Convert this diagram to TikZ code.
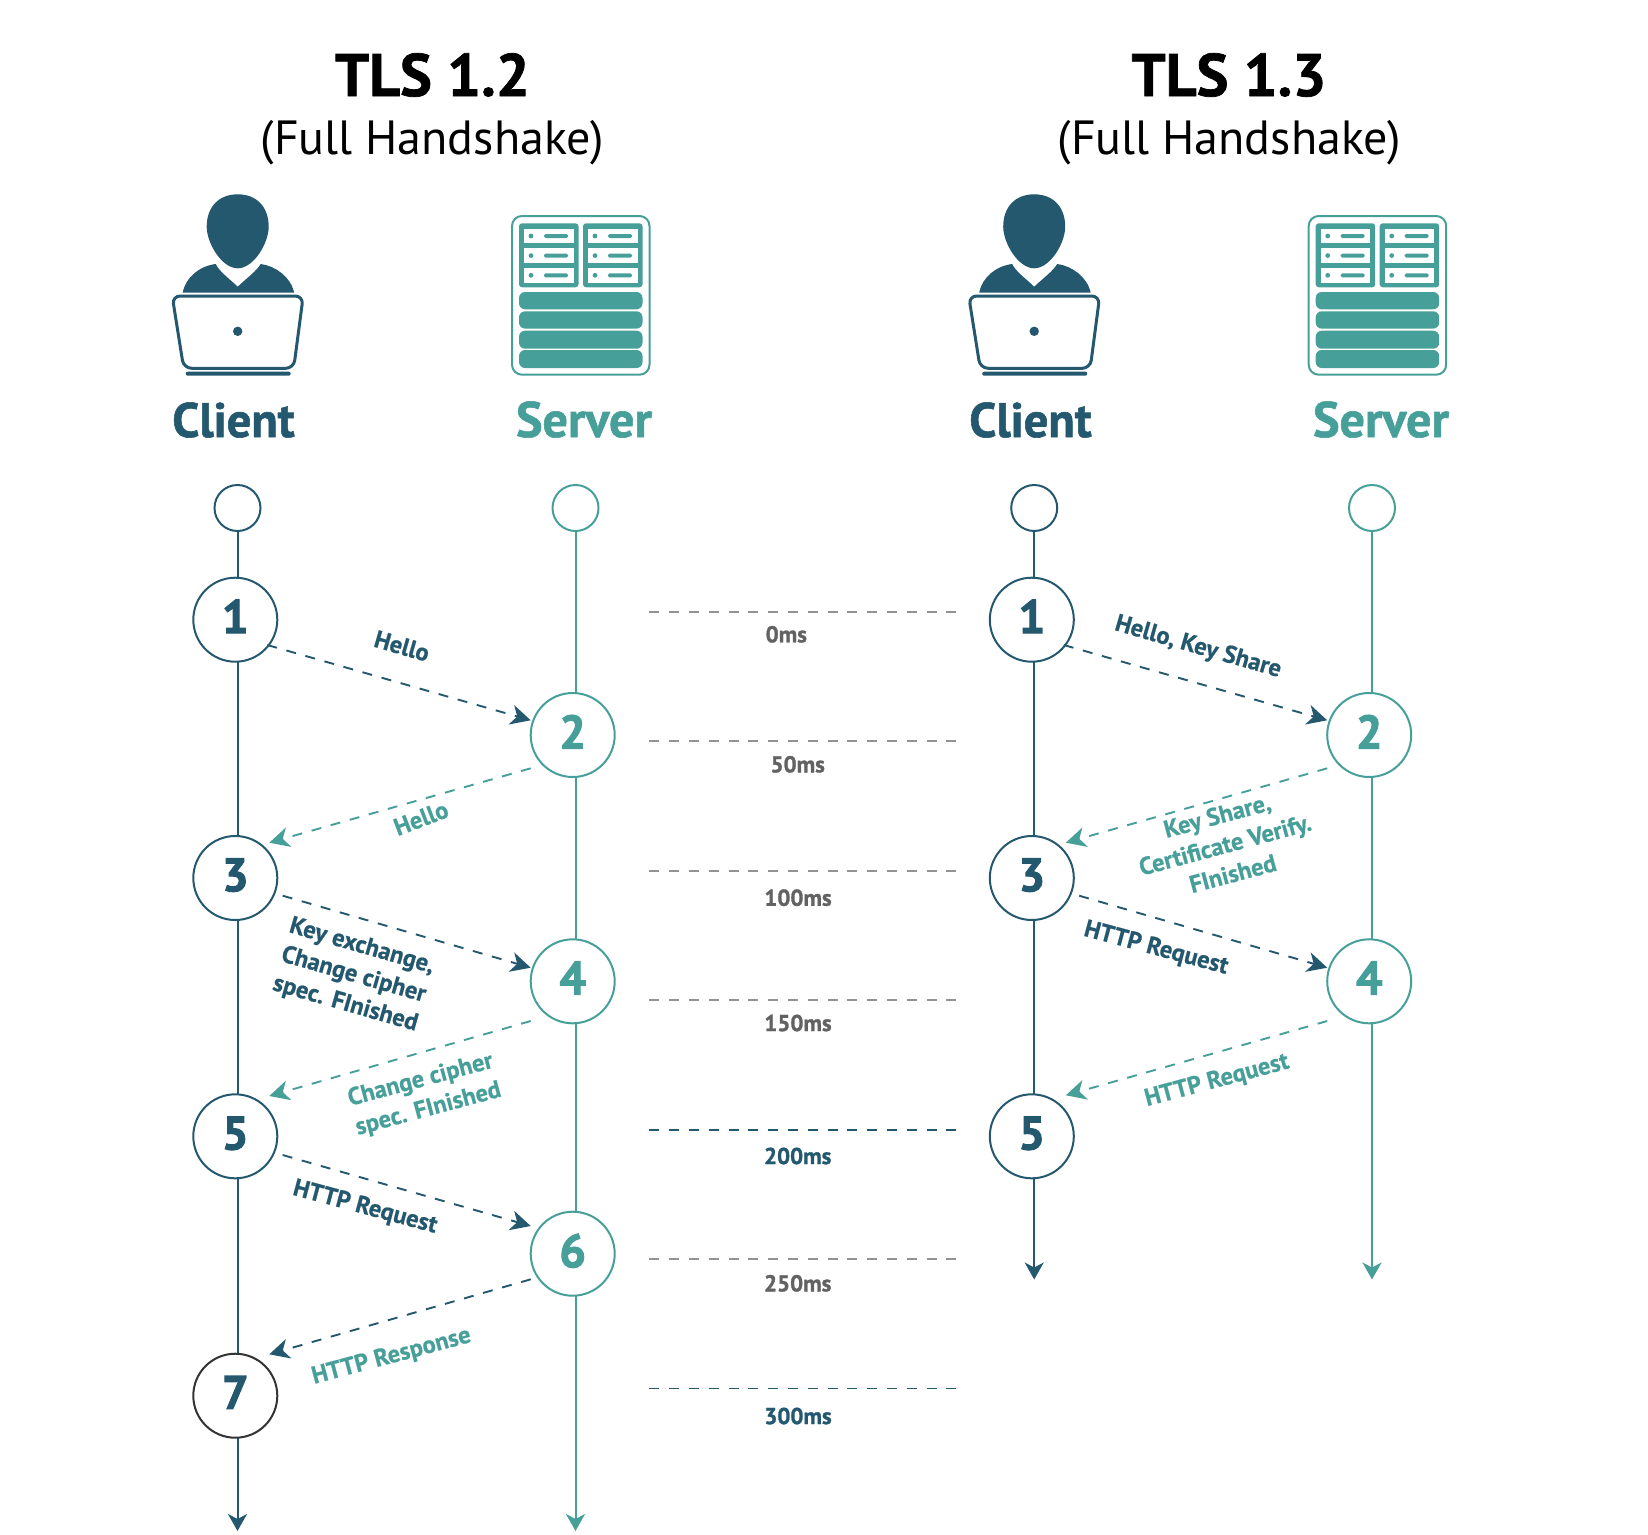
\documentclass[tikz,border=0pt]{standalone}
\usepackage{fontspec}
\setmainfont{PT Sans}[BoldFeatures={FakeBold=0.6}]
\newfontfamily\heavy{PT Sans Bold}[FakeBold=2.2]
\newfontfamily\headf{PT Sans Bold}[FakeBold=1.2]
\usetikzlibrary{arrows.meta,calc}
\definecolor{dk}{HTML}{24586F}
\definecolor{tl}{HTML}{479F9A}
\definecolor{gl}{HTML}{929292}
\definecolor{gt}{HTML}{626262}
\definecolor{ring}{HTML}{333333}
\newcommand{\sz}[2]{\fontsize{#1}{#2}\selectfont}
\newcommand{\dg}[1]{\raisebox{6.5pt}{#1}}
\tikzset{
  x=1pt,y=-1pt,
  numc/.style={circle,draw=#1,fill=white,line width=2pt,minimum size=84pt,inner sep=0pt,font=\heavy\sz{47}{47}},
  topc/.style={circle,draw=#1,fill=white,line width=2pt,minimum size=46pt,inner sep=0pt},
  life/.style={draw=#1,line width=2pt,-{Stealth[length=17pt,width=19pt,inset=5pt,fill=#1]}},
  msg/.style={draw=#1,line width=1.9pt,dash pattern=on 10pt off 9.8pt,-{Stealth[length=20pt,width=20pt,inset=6pt,fill=#1]}},
  tick/.style={draw=#1,dash pattern=on 10pt off 9.8pt},
  title/.style={font=\headf\sz{60}{60},text=black,inner sep=0pt,anchor=base},
  sub/.style={font=\sz{48}{48},text=black,inner sep=0pt,anchor=base},
  who/.style={font=\headf\sz{#1}{#1},inner sep=0pt,anchor=base},
  lbl/.style={font=\bfseries\sz{24.5}{30},text=#1,inner sep=0pt,align=center},
  ms/.style={font=\headf\sz{23}{23},text=#1,inner sep=0pt},
  person/.pic={
    \fill[dk] (0,-35.7) .. controls (-19,-35.7) and (-31,-23) .. (-31,-3.3)
      .. controls (-31,13) and (-16,38.3) .. (0,38.3)
      .. controls (16,38.3) and (31,13) .. (31,-3.3)
      .. controls (31,-23) and (19,-35.7) .. (0,-35.7) -- cycle;
    \fill[dk] (-55,62.7) .. controls (-52,47) and (-38,36) .. (-22,34)
      .. controls (-19,41) and (-8,49) .. (0,56.7)
      .. controls (8,49) and (19,41) .. (23,34)
      .. controls (38,36) and (53,47) .. (56.5,62.7) -- cycle;
    \draw[dk,line width=3pt,rounded corners=8pt,fill=white]
      (-65.5,66) -- (65.5,66) -- (56,138.3) -- (-54,138.3) -- cycle;
    \fill[dk,rounded corners=2pt] (-52,141.7) rectangle (53,145.7);
    \fill[dk] (0,101.3) circle (4.7);
  },
  srv/.pic={
    \draw[tl,line width=2pt,rounded corners=10pt] (0,0) rectangle (137.5,158.7);
    \foreach \xx in {7,71}{
      \fill[tl,rounded corners=3pt] (\xx,7.3) rectangle ++(59.5,64);
      \foreach \yy in {12.7,32.3,52}{
        \fill[white] (\xx+5,\yy) rectangle ++(49.5,14.7);
        \fill[tl] (\xx+12,\yy+7.3) circle (2.4);
        \fill[tl,rounded corners=1.5pt] (\xx+25,\yy+5.3) rectangle ++(24,4);
      }
    }
    \foreach \yy/\hh in {76/17.3,95.3/17.3,114.7/18,134/18}{
      \fill[tl,rounded corners=6pt] (7,\yy) rectangle ++(123.5,\hh);
    }
  }
}
\begin{document}
\begin{tikzpicture}
\useasboundingbox[fill=white] (0,0) rectangle (1648,1534);

% headers
\node[title] (t12) at (432.5,96) {TLS 1.2};
\node[sub] (s12) at (432.5,154) {(Full Handshake)};
\node[title] (t13) at (1229,96) {TLS 1.3};
\node[sub] (s13) at (1229.5,154) {(Full Handshake)};

% icons
\pic at (237.7,230) {person};
\pic at (512,216) {srv};
\pic at (1034.2,230) {person};
\pic at (1308.7,216) {srv};

\node[who=48.5,text=dk] (cl1) at (233.5,437) {Client};
\node[who=50,text=tl] (sv1) at (584,437) {Server};
\node[who=48.5,text=dk] (cl2) at (1030.5,437) {Client};
\node[who=50,text=tl] (sv2) at (1381,437) {Server};

\begin{scope}[yshift=-1pt]
% top circles and end points
\node[topc=dk] (la) at (237.5,507) {};
\node[topc=tl] (lb) at (575.5,507) {};
\node[topc=dk] (ra) at (1034.2,507) {};
\node[topc=tl] (rb) at (1372,507) {};
\coordinate (lae) at (237.5,1530);
\coordinate (lbe) at (575.5,1530);
\coordinate (rae) at (1034.2,1278.5);
\coordinate (rbe) at (1372,1278.5);

% lifelines
\draw[life=dk] (la) -- (lae);
\draw[life=tl] (lb) -- (lbe);
\draw[life=dk] (ra) -- (rae);
\draw[life=tl] (rb) -- (rbe);

% numbered circles TLS 1.2
\node[numc=dk,text=dk] (a1) at (235.3,618.7) {\dg{1}};
\node[numc=tl,text=tl] (a2) at (572.7,734) {\dg{2}};
\node[numc=dk,text=dk] (a3) at (235.3,877) {\dg{3}};
\node[numc=tl,text=tl] (a4) at (572.7,980.3) {\dg{4}};
\node[numc=dk,text=dk] (a5) at (235.3,1135.3) {\dg{5}};
\node[numc=tl,text=tl] (a6) at (572.7,1252.7) {\dg{6}};
\node[numc=ring,text=dk] (a7) at (235.3,1394.7) {\dg{7}};

% numbered circles TLS 1.3
\node[numc=dk,text=dk] (b1) at (1031.8,618.7) {\dg{1}};
\node[numc=tl,text=tl] (b2) at (1369.2,734) {\dg{2}};
\node[numc=dk,text=dk] (b3) at (1031.8,877) {\dg{3}};
\node[numc=tl,text=tl] (b4) at (1369.2,980.3) {\dg{4}};
\node[numc=dk,text=dk] (b5) at (1031.8,1135.3) {\dg{5}};

% messages TLS 1.2
\draw[msg=dk] ($(a1)+(32,25.3)$) -- ($(a2)+(-42,-14.7)$);
\draw[msg=tl] ($(a2)+(-42,33.3)$) -- ($(a3)+(34,-35.3)$);
\draw[msg=dk] ($(a3)+(47.4,17.7)$) -- ($(a4)+(-42,-13.6)$);
\draw[msg=tl] ($(a4)+(-42,39.7)$) -- ($(a5)+(34,-40.3)$);
\draw[msg=dk] ($(a5)+(47.4,18.7)$) -- ($(a6)+(-42,-27.7)$);
\draw[msg=dk] ($(a6)+(-42,25.6)$) -- ($(a7)+(34,-41.4)$);

% messages TLS 1.3
\draw[msg=dk] ($(b1)+(32,25.3)$) -- ($(b2)+(-42,-14.7)$);
\draw[msg=tl] ($(b2)+(-42,33.3)$) -- ($(b3)+(34,-35.3)$);
\draw[msg=dk] ($(b3)+(47.4,17.7)$) -- ($(b4)+(-42,-13.6)$);
\draw[msg=tl] ($(b4)+(-42,39.7)$) -- ($(b5)+(34,-41)$);

% message labels TLS 1.2
\node[lbl=dk,rotate=-16] (m1) at (402,645) {Hello};
\node[lbl=tl,rotate=21] (m2) at (421,817.3) {Hello};
\node[lbl=dk,rotate=-16] (m3) at (353.5,974.5) {Key exchange,\\Change cipher\\spec. FInished};
\node[lbl=tl,rotate=15] (m4) at (424.5,1094) {Change cipher\\spec. FInished};
\node[lbl=dk,rotate=-15] (m5) at (365,1206.7) {HTTP Request};
\node[lbl=tl,rotate=15] (m6) at (391.5,1355.7) {HTTP Response};

% message labels TLS 1.3
\node[lbl=dk,rotate=-16] (n1) at (1198,646.5) {Hello, Key Share};
\node[lbl=tl,rotate=15] (n2) at (1225,843.5) {Key Share,\\Certificate Verify.\\FInished};
\node[lbl=dk,rotate=-15] (n3) at (1156,947.7) {HTTP Request};
\node[lbl=tl,rotate=15] (n4) at (1217,1080) {HTTP Request};

% timeline
\foreach \ii/\yy/\cc/\lw in {0/610.7/gl/1.8,1/740.3/gl/1.8,2/870/gl/1.8,3/999.3/gl/1.8,4/1129/dk/2,5/1258.3/gl/1.8,6/1387.3/dk/1.2}{
  \coordinate (s\ii) at (649.3,\yy);
  \coordinate (e\ii) at (958,\yy);
  \draw[tick=\cc,line width=\lw pt] (s\ii) -- (e\ii);
}
\node[ms=gt] (t0) at (786.3,633.3) {0ms};
\node[ms=gt] (t50) at (797.7,763.3) {50ms};
\node[ms=gt] (t100) at (798,896.7) {100ms};
\node[ms=gt] (t150) at (798,1022) {150ms};
\node[ms=dk] (t200) at (797.7,1155) {200ms};
\node[ms=gt] (t250) at (797.7,1282.3) {250ms};
\node[ms=dk] (t300) at (798,1415) {300ms};
\end{scope}
\end{tikzpicture}
\end{document}
